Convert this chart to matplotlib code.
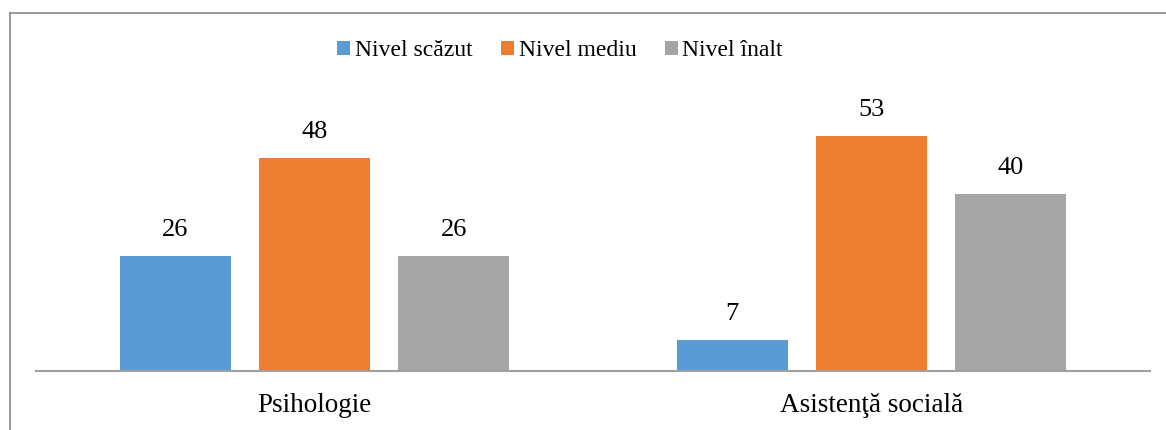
import matplotlib.pyplot as plt
import numpy as np
from matplotlib.lines import Line2D
from matplotlib.patches import Patch

plt.rcParams['font.family'] = ['Liberation Serif', 'DejaVu Serif']

categories = ["Psihologie", "Asistenţă socială"]
series_names = ["Nivel scăzut", "Nivel mediu", "Nivel înalt"]
nivel_scazut = [26, 7]
nivel_mediu = [48, 53]
nivel_inalt = [26, 40]
colors = ["#5B9BD5", "#ED7D31", "#A5A5A5"]

W, H = 1166, 430
fig = plt.figure(figsize=(W / 100, H / 100), dpi=100)
ax = fig.add_axes([36 / W, (H - 370.7) / H, (1150 - 36) / W, (370.7 - 105) / H])

x = np.arange(len(categories))
width = 0.2
offsets = [-0.25, 0, 0.25]
for vals, off, col in zip([nivel_scazut, nivel_mediu, nivel_inalt], offsets, colors):
    bars = ax.bar(x + off, vals, width, color=col)
    for b, v in zip(bars, vals):
        ax.text(b.get_x() + b.get_width() / 2, v + 3.4, str(v),
                ha="center", va="bottom", fontsize=19)

ax.set_xlim(-0.5, 1.5)
ax.set_ylim(0, 60)
ax.set_yticks([])
ax.set_xticks(x)
ax.set_xticklabels(categories, fontsize=19.5)
ax.tick_params(axis="x", length=0, pad=16)
for s in ["top", "right", "left"]:
    ax.spines[s].set_visible(False)
ax.spines["bottom"].set_color("#A0A0A0")
ax.spines["bottom"].set_linewidth(1.5)

handles = [Patch(facecolor=c, edgecolor="none") for c in colors]
fig.legend(handles, series_names, loc="center", bbox_to_anchor=(560 / W, 1 - 51 / H),
           ncol=3, frameon=False, fontsize=17, handlelength=0.55, handleheight=0.55,
           handletextpad=0.2, columnspacing=1.2)

# chart frame (partly cut off in the source)
fig.add_artist(Line2D([9.5 / W, 9.5 / W], [0, 1 - 13 / H], color="#888888", lw=1.2))
fig.add_artist(Line2D([9.5 / W, 1], [1 - 13 / H, 1 - 13 / H], color="#888888", lw=1.2))

fig.savefig("out.png", dpi=100)
